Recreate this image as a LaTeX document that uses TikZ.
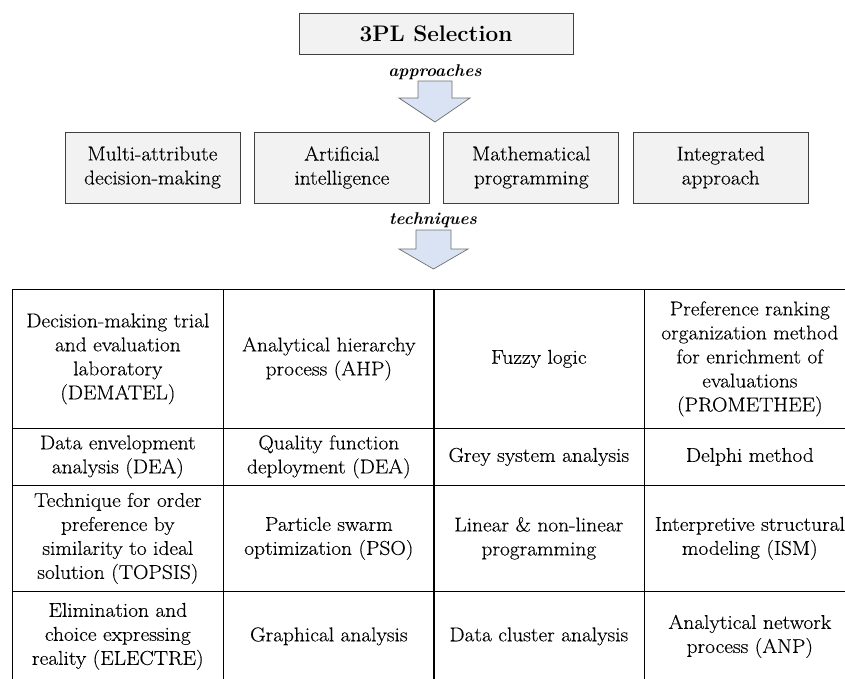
\documentclass[tikz,border=0pt]{standalone}
\usepackage{fontspec}
\newfontfamily\widefont{Latin Modern Roman}[FakeStretch=1.07, FakeBold=0.3]
\newfontfamily\headfont{Latin Modern Roman}[FakeStretch=1.0]
\usepackage{tikz}
\usetikzlibrary{positioning, calc}
\definecolor{boxfill}{HTML}{F2F2F2}
\definecolor{boxline}{HTML}{404040}
\definecolor{arrowfill}{HTML}{DAE3F3}
\definecolor{arrowline}{HTML}{6F6F6F}
\tikzset{
	topbox/.style={draw=boxline, fill=boxfill, line width=0.9pt, minimum width=274pt, minimum height=41pt, inner sep=0pt, font=\headfont\fontsize{22.5}{26}\selectfont\bfseries},
	approachbox/.style={draw=boxline, fill=boxfill, line width=0.9pt, minimum width=175pt, minimum height=71pt, inner sep=0pt, align=center, font=\widefont\fontsize{20}{24}\selectfont},
	arrowlabel/.style={font=\headfont\fontsize{17}{20}\selectfont\bfseries\itshape, inner sep=0pt},
	cell/.style={draw, line width=0.7pt, anchor=north west, minimum width=211pt, inner sep=0pt, align=center, font=\widefont\fontsize{20}{24}\selectfont},
	downarrow/.style={draw=arrowline, fill=arrowfill, line width=0.7pt, line join=miter}
}
\begin{document}
\begin{tikzpicture}[x=1pt, y=-1pt, node distance=13.5pt]
	\useasboundingbox (0,0) rectangle (845,678);
	% selection and approaches
	\node[topbox] (sel) at (436,33.5) {3PL Selection};
	\node[arrowlabel] (lblapp) at (435,72) {approaches};
	\draw[downarrow] (418,81) -- (452,81) -- (452,98) -- (470,98) -- (435,122) -- (399,98) -- (418,98) -- cycle;
	\node[approachbox] (madm) at (152.5,167.5) {Multi-attribute\\decision-making};
	\node[approachbox, right=of madm] (ai) {Artificial\\intelligence};
	\node[approachbox, right=of ai] (mp) {Mathematical\\programming};
	\node[approachbox, right=of mp] (integ) {Integrated\\approach};
	\node[arrowlabel] (lbltech) at (433,220) {techniques};
	\draw[downarrow] (416,230) -- (451,230) -- (451,249) -- (468,249) -- (433.5,269) -- (399,249) -- (416,249) -- cycle;
	% techniques table
	\node[cell, minimum height=139pt] (dematel) at (12,289) {Decision-making trial\\and evaluation\\laboratory\\(DEMATEL)};
	\node[cell, minimum height=139pt] (ahp) at (223,289) {Analytical hierarchy\\process (AHP)};
	\node[cell, minimum height=139pt] (fuzzy) at (433,289) {Fuzzy logic};
	\node[cell, minimum height=139pt] (promethee) at (644,289) {Preference ranking\\organization method\\for enrichment of\\evaluations\\(PROMETHEE)};
	\node[cell, minimum height=57pt] (dea) at (12,428) {Data envelopment\\analysis (DEA)};
	\node[cell, minimum height=57pt] (qfd) at (223,428) {Quality function\\deployment (DEA)};
	\node[cell, minimum height=57pt] (grey) at (433,428) {Grey system analysis};
	\node[cell, minimum height=57pt] (delphi) at (644,428) {Delphi method};
	\node[cell, minimum height=106pt] (topsis) at (12,485) {Technique for order\\preference by\\similarity to ideal\\solution (TOPSIS)};
	\node[cell, minimum height=106pt] (pso) at (223,485) {Particle swarm\\optimization (PSO)};
	\node[cell, minimum height=106pt] (linear) at (433,485) {Linear \& non-linear\\programming};
	\node[cell, minimum height=106pt] (ism) at (644,485) {Interpretive structural\\modeling (ISM)};
	\node[cell, minimum height=90pt] (electre) at (12,591) {Elimination and\\choice expressing\\reality (ELECTRE)};
	\node[cell, minimum height=90pt] (graph) at (223,591) {Graphical analysis};
	\node[cell, minimum height=90pt] (cluster) at (433,591) {Data cluster analysis};
	\node[cell, minimum height=90pt] (anp) at (644,591) {Analytical network\\process (ANP)};
\end{tikzpicture}
\end{document}
